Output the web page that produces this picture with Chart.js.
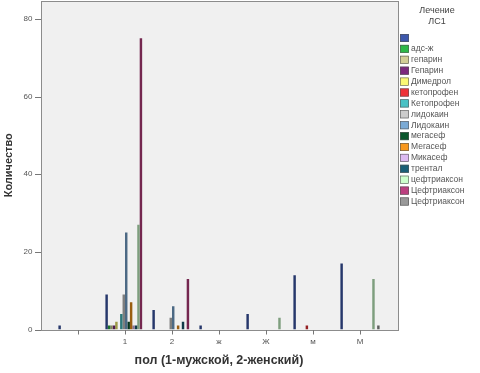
<!DOCTYPE html>
<html><head><meta charset="utf-8">
<script src="https://cdn.jsdelivr.net/npm/chart.js@4/dist/chart.umd.min.js"></script>
<style>html,body{margin:0;padding:0;background:#fff;}</style>
</head><body>
<canvas id="c" width="480" height="373" style="width:480px;height:373px;display:block"></canvas>
<script>
// Categories (пол)
const categories = ["", "1", "2", "ж", "Ж", "м", "М"];
// Series (Лечение ЛС1)
const seriesNames = ["", "адс-ж", "гепарин", "Гепарин", "Димедрол", "кетопрофен", "Кетопрофен", "лидокаин", "Лидокаин", "мегасеф", "Мегасеф", "Микасеф", "трентал", "цефтриаксон", "Цефтриаксон", "Цефтриаксон "];
const seriesColors = ["#3E58AC", "#2EB848", "#D3CE97", "#7C287D", "#FBF873", "#EF3338", "#48C2C5", "#CCCCCC", "#7AAAD5", "#0A562C", "#F8981D", "#DDBAF1", "#1A5F76", "#CCFFCC", "#BB3F7F", "#999999"];
// Values per series, one per category
const sBlank        = [1, 9, 5, 1, 4, 14, 17];
const sAdsZh        = [null, 1, null, null, null, null, null];
const sGeparin      = [null, 1, null, null, null, null, null];
const sGeparin2     = [null, 1, null, null, null, null, null];
const sDimedrol     = [null, 2, null, null, null, null, null];
const sKetoprofen   = [null, null, null, null, null, 1, null];
const sKetoprofen2  = [null, 4, null, null, null, null, null];
const sLidokain     = [null, 9, 3, null, null, null, null];
const sLidokain2    = [null, 25, 6, null, null, null, null];
const sMegasef      = [null, 2, null, null, null, null, null];
const sMegasef2     = [null, 7, 1, null, null, null, null];
const sMikasef      = [null, 1, null, null, null, null, null];
const sTrental      = [null, 1, 2, null, null, null, null];
const sCeftriaxon   = [null, 27, null, null, 3, null, 13];
const sCeftriaxon2  = [null, 75, 13, null, null, null, null];
const sCeftriaxon3  = [null, null, null, null, null, null, 1];
const seriesValues = [sBlank, sAdsZh, sGeparin, sGeparin2, sDimedrol, sKetoprofen, sKetoprofen2, sLidokain, sLidokain2, sMegasef, sMegasef2, sMikasef, sTrental, sCeftriaxon, sCeftriaxon2, sCeftriaxon3];
const yTicks = [0, 20, 40, 60, 80];

function shade(hex, f) {
  const n = parseInt(hex.slice(1), 16);
  const r = Math.round(((n >> 16) & 255) * f), g = Math.round(((n >> 8) & 255) * f), b = Math.round((n & 255) * f);
  return `rgb(${r},${g},${b})`;
}

const FONT = '"Liberation Sans", Arial, sans-serif';

const framePlugin = {
  id: 'frame',
  beforeDraw(chart) {
    const {ctx, chartArea: a, scales: {y}} = chart;
    const L = a.left - 13.5, R = a.right + 15.5, T = a.top, B = a.bottom + 0.5;
    ctx.save();
    ctx.fillStyle = '#F0F0F0';
    ctx.fillRect(L, T, R - L, B - T);
    ctx.strokeStyle = '#8c8c8c';
    ctx.lineWidth = 1;
    ctx.strokeRect(L + 0.5, T + 0.5, R - L - 1, B - T);
    ctx.strokeStyle = '#777';
    yTicks.forEach(v => {
      const py = Math.round(y.getPixelForValue(v)) + 0.5;
      ctx.beginPath(); ctx.moveTo(L - 6, py); ctx.lineTo(L, py); ctx.stroke();
    });
    ctx.restore();
  }
};

const legendPlugin = {
  id: 'spssLegend',
  afterDraw(chart) {
    const {ctx, chartArea: a} = chart;
    const x0 = a.right + 16.5;
    ctx.save();
    ctx.font = '9px ' + FONT;
    ctx.fillStyle = '#444';
    ctx.textAlign = 'center';
    ctx.textBaseline = 'middle';
    ctx.fillText('Лечение', x0 + 37, 11);
    ctx.fillText('ЛС1', x0 + 37, 22);
    chart.data.datasets.forEach((ds, i) => {
      const cy = 38 + i * 10.9;
      ctx.fillStyle = ds.legendColor;
      ctx.fillRect(x0, cy - 4, 9, 8);
      ctx.strokeStyle = '#555';
      ctx.lineWidth = 0.6;
      ctx.strokeRect(x0 + 0.3, cy - 3.7, 8.4, 7.4);
      ctx.fillStyle = '#555';
      ctx.textAlign = 'left';
      ctx.font = '8.5px ' + FONT;
      ctx.fillText(ds.label, x0 + 11, cy);
    });
    ctx.restore();
  }
};

new Chart(document.getElementById('c'), {
  type: 'bar',
  data: {
    labels: categories,
    datasets: seriesNames.map((name, i) => ({
      label: name,
      data: seriesValues[i],
      legendColor: seriesColors[i],
      backgroundColor: shade(seriesColors[i], 0.62),
      borderWidth: 0,
      categoryPercentage: 0.834,
      barPercentage: 1
    }))
  },
  options: {
    responsive: false,
    animation: false,
    devicePixelRatio: 1,
    layout: { padding: { left: 0, top: 1, right: 96.5, bottom: 0 } },
    plugins: { legend: { display: false }, tooltip: { enabled: false } },
    scales: {
      x: {
        offset: true,
        grid: { display: true, drawOnChartArea: false, offset: false, tickLength: 5, tickColor: '#777' },
        border: { display: false },
        ticks: { color: '#555', font: { family: FONT, size: 8 }, padding: 2, maxRotation: 0, autoSkip: false },
        title: { display: true, text: 'пол (1-мужской, 2-женский)', color: '#333', font: { family: FONT, size: 12.5, weight: 'bold' }, padding: { top: 0, bottom: 5 } },
        afterFit(s) { s.height = 43.5; s.paddingLeft = 0; s.paddingRight = 0; }
      },
      y: {
        min: 0,
        max: 84.6,
        grid: { display: false, drawTicks: false },
        border: { display: false },
        ticks: {
          stepSize: 20,
          padding: 22,
          color: '#555',
          font: { family: FONT, size: 8 },
          callback: v => (yTicks.includes(v) ? String(v) : '')
        },
        title: { display: true, text: 'Количество', color: '#333', font: { family: FONT, size: 11, weight: 'bold' }, padding: { top: 2, bottom: 0 } },
        afterFit(s) { s.width = 54.5; s.paddingTop = 0; s.paddingBottom = 0; }
      }
    }
  },
  plugins: [framePlugin, legendPlugin]
});
</script>
</body></html>
